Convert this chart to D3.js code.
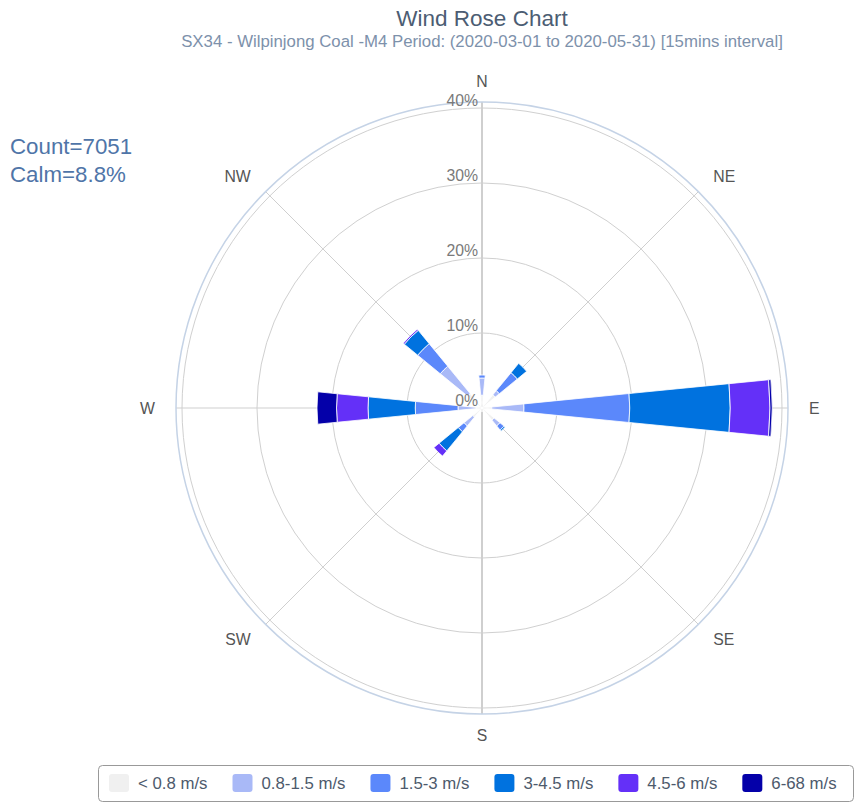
<!DOCTYPE html>
<html lang="en">
<head>
  <meta charset="UTF-8">
  <title>Wind Rose Chart</title>
  <style>
    body { margin: 0; background: #fff; }
    svg { display: block; font-family: "Liberation Sans", Arial, sans-serif; }
  </style>
</head>
<body>
  <svg id="chart" width="856" height="803"></svg>
<script src="https://cdn.jsdelivr.net/npm/d3@7"></script>
<script>
  // directions (compass order, clockwise from north)
  let directions = ["N", "NE", "E", "SE", "S", "SW", "W", "NW"]
  let dirAngles = [0, 45, 90, 135, 180, 225, 270, 315]

  let speedBins = ["< 0.8 m/s", "0.8-1.5 m/s", "1.5-3 m/s", "3-4.5 m/s", "4.5-6 m/s", "6-68 m/s"]
  let binColors = ["#f0f0f0", "#a9b9f7", "#5b88fb", "#0072df", "#6430f8", "#0400a9"]

  // percent of records per direction, one array per speed bin
  let bin0 = [1.7, 2.3, 1.3, 2.1, 0.5, 1.6, 0.8, 2.5]
  let bin1 = [2.3, 0.7, 4.3, 1.0, 0.0, 1.5, 2.4, 4.7]
  let bin2 = [0.4, 3.1, 14.1, 0.7, 0.0, 1.0, 5.7, 3.9]
  let bin3 = [0.0, 1.6, 13.4, 0.2, 0.0, 3.3, 6.3, 2.3]
  let bin4 = [0.0, 0.0, 5.3, 0.0, 0.0, 0.9, 4.2, 0.2]
  let bin5 = [0.0, 0.0, 0.3, 0.0, 0.0, 0.0, 2.6, 0.0]
  let binValues = [bin0, bin1, bin2, bin3, bin4, bin5]

  let radialTicks = [0, 10, 20, 30, 40]
  let titleText = "Wind Rose Chart"
  let subtitleText = "SX34 - Wilpinjong Coal -M4 Period: (2020-03-01 to 2020-05-31) [15mins interval]"
  let countText = "Count=7051"
  let calmText = "Calm=8.8%"

  let svg = d3.select("#chart")
  let cx = 482, cy = 408
  let rMax = 40.8
  let rScale = d3.scaleLinear().domain([0, rMax]).range([0, 306])
  let barWidth = 11.25
  let rad = d => d * Math.PI / 180

  // titles
  svg.append("text").attr("x", 482).attr("y", 26)
     .attr("text-anchor", "middle").attr("font-size", 22.5).attr("fill", "#4c5d73")
     .text(titleText)
  svg.append("text").attr("x", 482).attr("y", 47)
     .attr("text-anchor", "middle").attr("font-size", 16.8).attr("fill", "#7d91ab")
     .text(subtitleText)

  svg.append("text").attr("x", 10).attr("y", 154)
     .attr("font-size", 22.3).attr("fill", "#4f75a8").text(countText)
  svg.append("text").attr("x", 10).attr("y", 182)
     .attr("font-size", 22.3).attr("fill", "#4f75a8").text(calmText)

  let polar = svg.append("g").attr("transform", `translate(${cx},${cy})`)

  // grid circles
  polar.append("g").selectAll("circle")
       .data(radialTicks.filter(t => t > 0))
       .enter().append("circle")
       .attr("r", d => rScale(d))
       .attr("fill", "none").attr("stroke", "#d0d0d0").attr("stroke-width", 1)

  // angular grid lines
  polar.append("g").selectAll("line")
       .data(dirAngles)
       .enter().append("line")
       .attr("x1", 0).attr("y1", 0)
       .attr("x2", d => rScale(rMax) * Math.sin(rad(d)))
       .attr("y2", d => -rScale(rMax) * Math.cos(rad(d)))
       .attr("stroke", "#cfcfcf")
       .attr("stroke-width", d => d % 180 === 0 ? 2 : 1)

  // outer edge
  polar.append("circle").attr("r", rScale(rMax))
       .attr("fill", "none").attr("stroke", "#c5d3e6").attr("stroke-width", 1.5)

  // stacked bars
  let arc = d3.arc()
  let segments = []
  directions.forEach((dir, i) => {
    let base = 0
    binValues.forEach((vals, b) => {
      let v = vals[i]
      if (v > 0) {
        segments.push({ dir: dir, angle: dirAngles[i], r0: base, r1: base + v, bin: b })
      }
      base += v
    })
  })

  polar.append("g").selectAll("path")
       .data(segments)
       .enter().append("path")
       .attr("d", d => arc({
         innerRadius: rScale(d.r0),
         outerRadius: rScale(d.r1),
         startAngle: rad(d.angle - barWidth / 2),
         endAngle: rad(d.angle + barWidth / 2)
       }))
       .attr("fill", d => binColors[d.bin])
       .attr("stroke", "#fff").attr("stroke-width", 0.8)

  // radial tick labels
  polar.append("g").selectAll("text")
       .data(radialTicks)
       .enter().append("text")
       .attr("x", -4).attr("y", d => -rScale(d) - 2)
       .attr("text-anchor", "end").attr("font-size", 15.8).attr("fill", "#7a7a7a")
       .text(d => d + "%")

  // direction labels
  let labelR = 327
  polar.append("g").selectAll("text")
       .data(directions)
       .enter().append("text")
       .attr("x", (d, i) => labelR * Math.sin(rad(dirAngles[i])))
       .attr("y", (d, i) => -labelR * Math.cos(rad(dirAngles[i])))
       .attr("dy", "0.35em")
       .attr("text-anchor", (d, i) => {
         let s = Math.sin(rad(dirAngles[i]))
         return s > 0.1 ? "start" : s < -0.1 ? "end" : "middle"
       })
       .attr("font-size", 15.8).attr("fill", "#555")
       .text(d => d)

  // legend
  let legend = svg.append("g")
  legend.append("rect")
        .attr("x", 98.5).attr("y", 765.5).attr("width", 755).attr("height", 36).attr("rx", 4)
        .attr("fill", "#fff").attr("stroke", "#999").attr("stroke-width", 1)

  let lx = 109
  speedBins.forEach((label, i) => {
    let item = legend.append("g").attr("transform", `translate(${lx},774)`)
    item.append("rect").attr("width", 20).attr("height", 18).attr("rx", 3)
        .attr("fill", binColors[i])
    let t = item.append("text").attr("x", 29).attr("y", 15)
        .attr("font-size", 16.8).attr("fill", "#4d5a6c").text(label)
    lx += 29 + t.node().getComputedTextLength() + 25
  })
</script>
</body>
</html>
